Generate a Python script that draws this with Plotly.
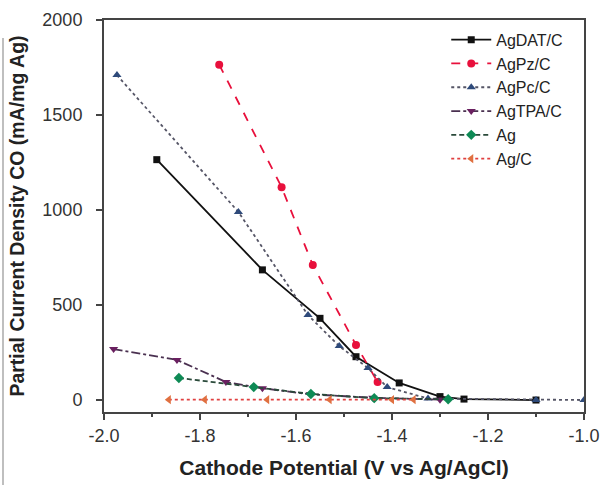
import plotly.graph_objects as go

# Data
agdat_x = [-1.89, -1.67, -1.55, -1.475, -1.385, -1.30, -1.25, -1.10]
agdat_y = [1265, 685, 430, 228, 90, 18, 5, 0]

agpz_x = [-1.76, -1.63, -1.565, -1.475, -1.43]
agpz_y = [1765, 1120, 710, 290, 95]

agpc_x = [-1.973, -1.72, -1.575, -1.51, -1.45, -1.41, -1.325, -1.10, -1.00]
agpc_y = [1710, 990, 447, 284, 168, 68, 8, 0, 0]

agtpa_x = [-1.98, -1.848, -1.746, -1.67, -1.57, -1.44, -1.30]
agtpa_y = [268, 211, 95, 62, 30, 12, 2]

ag_x = [-1.844, -1.688, -1.569, -1.437, -1.283]
ag_y = [116, 68, 32, 10, 4]

agc_x = [-1.865, -1.79, -1.66, -1.53, -1.40, -1.355]
agc_y = [2, 2, 2, 2, 2, 2]

x_ticks = [-2.0, -1.8, -1.6, -1.4, -1.2, -1.0]
x_labels = ["-2.0", "-1.8", "-1.6", "-1.4", "-1.2", "-1.0"]
y_ticks = [0, 500, 1000, 1500, 2000]

series = [
    ("AgDAT/C", agdat_x, agdat_y, "#111111", "#111111", "solid", "square", 7),
    ("AgPz/C", agpz_x, agpz_y, "#e8103c", "#e8103c", "dash", "circle", 8),
    ("AgPc/C", agpc_x, agpc_y, "#555566", "#2e4a7a", "dot", "triangle-up", 8),
    ("AgTPA/C", agtpa_x, agtpa_y, "#4a3050", "#6a2060", "dashdot", "triangle-down", 8),
    ("Ag", ag_x, ag_y, "#2a4a3a", "#0e8a55", "5px,3px", "diamond", 8),
    ("Ag/C", agc_x, agc_y, "#e04040", "#e07040", "dot", "triangle-left", 8),
]

FONT = "Liberation Sans, Arial, sans-serif"

fig = go.Figure()
for name, xs, ys, lc, mc, dash, sym, ms in series:
    fig.add_trace(go.Scatter(
        x=xs, y=ys, name=name, mode="lines+markers",
        line=dict(color=lc, width=1.8, dash=dash),
        marker=dict(color=mc, symbol=sym, size=ms),
    ))

axis_common = dict(
    showline=True, linecolor="#444444", linewidth=2, mirror=True,
    ticks="outside", ticklen=6, tickwidth=1.5, tickcolor="#444444",
    showgrid=False, zeroline=False, automargin=False,
    tickfont=dict(family=FONT, size=18, color="#333333"),
)

fig.update_layout(
    width=607, height=485,
    margin=dict(l=104, r=23, t=20, b=73),
    paper_bgcolor="white", plot_bgcolor="white",
    xaxis=dict(
        range=[-2.0, -1.0], tickvals=x_ticks, ticktext=x_labels,
        minor=dict(ticks="outside", ticklen=3, dtick=0.1, tickcolor="#444444"),
        title=dict(text="<b>Cathode Potential (V vs Ag/AgCl)</b>",
                   font=dict(family=FONT, size=21, color="#222222"),
                   standoff=16),
        **axis_common,
    ),
    yaxis=dict(
        range=[-63, 2000], tickvals=y_ticks, ticklabelstandoff=10,
        title=dict(text="<b>Partial Current Density CO (mA/mg Ag)</b>",
                   font=dict(family=FONT, size=19.5, color="#222222"),
                   standoff=13),
        **axis_common,
    ),
    legend=dict(
        x=0.713, y=0.993, xanchor="left", yanchor="top",
        bgcolor="rgba(0,0,0,0)", borderwidth=0,
        font=dict(family=FONT, size=16, color="#222222"),
        tracegroupgap=0, itemwidth=40,
    ),
    showlegend=True,
    shapes=[
        dict(type="line", xref="paper", yref="paper",
             x0=-101 / 480, x1=-101 / 480, y0=-0.2, y1=(412 - 38) / 392,
             line=dict(color="#aaaaaa", width=1.5)),
    ],
)

fig.write_html(
    "out.html",
    config={"displayModeBar": False},
    post_script="document.body.style.margin='0';document.body.style.padding='0';",
)
